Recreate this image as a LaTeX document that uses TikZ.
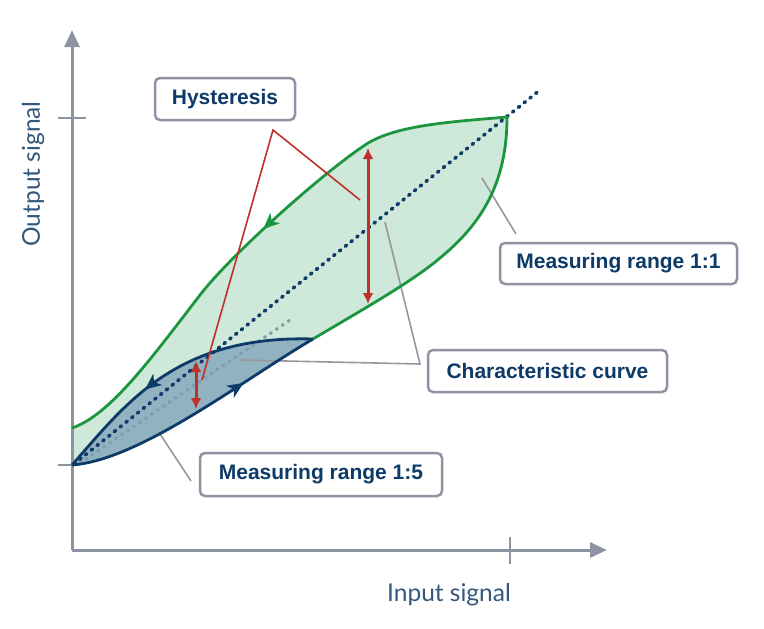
\documentclass[tikz,border=0pt]{standalone}
\usepackage{fontspec}
\setmainfont{Lato}
\newfontfamily\boxfont{Liberation Sans}
\usetikzlibrary{arrows.meta,decorations.markings}
\definecolor{axisgray}{RGB}{142,147,163}
\definecolor{curvegreen}{RGB}{28,150,62}
\definecolor{fillgreen}{RGB}{206,232,218}
\definecolor{navy}{RGB}{14,58,104}
\definecolor{fillblue}{RGB}{145,178,192}
\definecolor{lightdot}{RGB}{128,156,178}
\definecolor{hystred}{RGB}{192,48,43}
\definecolor{labelblue}{RGB}{52,88,124}
\definecolor{leadergray}{RGB}{150,152,158}
\tikzset{
  axisline/.style={draw=axisgray,line width=3pt,-{Triangle[length=17pt,width=15pt]}},
  tickline/.style={draw=axisgray,line width=2.5pt},
  labelbox/.style={draw=axisgray,line width=2.5pt,fill=white,rounded corners=5pt,
    text=navy,font=\boxfont\fontsize{21}{23}\selectfont\bfseries,inner sep=0pt,align=center},
  leader/.style={draw=leadergray,line width=1.6pt},
  redleader/.style={draw=hystred,line width=1.6pt},
  redarrow/.style={draw=hystred,line width=3pt,{Latex[length=11pt,width=11pt]}-{Latex[length=11pt,width=11pt]}},
  greenline/.style={draw=curvegreen,line width=2.8pt},
  navyline/.style={draw=navy,line width=2.8pt},
  backtip/.style={postaction={decorate},decoration={markings,mark=at position #1 with {\arrowreversed{Stealth[length=16pt,width=14pt,inset=4.5pt]}}}},
  axislabel/.style={text=labelblue,font=\fontsize{24.5}{26}\selectfont,inner sep=0pt},
}
\begin{document}
\begin{tikzpicture}[x=1pt,y=-1pt]
\useasboundingbox (0,0) rectangle (764,629);
% key points
\coordinate (g0) at (72,428);
\coordinate (top) at (507,117);
\coordinate (tip) at (313,339);
\coordinate (b0) at (72,465);
% regions
\fill[fillgreen] (g0) .. controls (110,415) and (150,360) .. (200,295)
  .. controls (230,256) and (320,175) .. (365,145)
  .. controls (395,125) and (450,122) .. (top)
  .. controls (507,185) and (480,225) .. (440,258)
  .. controls (412,282) and (355,314) .. (tip)
  .. controls (240,382) and (140,460) .. (b0) -- cycle;
\fill[fillblue] (b0) .. controls (125,405) and (175,335) .. (tip)
  .. controls (240,382) and (140,460) .. (b0) -- cycle;
% dotted diagonals
\coordinate (d0) at (74,464);
\coordinate (d1) at (540,90);
\coordinate (l0) at (80,463);
\coordinate (l1) at (290,320);
\draw[lightdot,line width=3.4pt,line cap=round,dash pattern=on 1pt off 6.2pt] (l0) -- (l1);
\draw[navy,line width=3.6pt,line cap=round,dash pattern=on 1.6pt off 5.8pt] (d0) -- (d1);
% axes
\coordinate (o) at (72,550);
\coordinate (ytip) at (72,30);
\coordinate (xtip) at (607,550);
\draw[axisline] (o) -- (ytip);
\draw[axisline] (o) -- (xtip);
\coordinate (ty1a) at (58,118); \coordinate (ty1b) at (86,118);
\coordinate (ty2a) at (58,465); \coordinate (ty2b) at (72,465);
\coordinate (tx1a) at (510,537); \coordinate (tx1b) at (510,564);
\draw[tickline] (ty1a) -- (ty1b);
\draw[tickline] (ty2a) -- (ty2b);
\draw[tickline] (tx1a) -- (tx1b);
% leaders (gray)
\coordinate (cv) at (420,364);
\coordinate (cd) at (385,222);
\coordinate (cl) at (240,360);
\draw[leader] (cd) -- (cv) -- (cl);
\coordinate (m1a) at (482,178);
\coordinate (m1b) at (516,234);
\draw[leader] (m1a) -- (m1b);
\coordinate (m5a) at (160,434);
\coordinate (m5b) at (191,481);
\draw[leader] (m5a) -- (m5b);
% curves
\draw[greenline,backtip=0.5]
  (g0) .. controls (110,415) and (150,360) .. (200,295)
  .. controls (230,256) and (320,175) .. (365,145)
  .. controls (395,125) and (450,122) .. (top);
\draw[greenline,line cap=round] (top) .. controls (507,185) and (480,225) .. (440,258)
  .. controls (412,282) and (355,314) .. (tip);
\draw[navyline,backtip=0.37]
  (b0) .. controls (125,405) and (175,335) .. (tip);
\draw[navyline,backtip=0.30]
  (tip) .. controls (240,382) and (140,460) .. (b0);
% hysteresis leaders and arrows
\coordinate (hv) at (273,130);
\coordinate (ha) at (360,200);
\coordinate (hb) at (202,380);
\draw[redleader] (ha) -- (hv) -- (hb);
\coordinate (ra0) at (368,148);
\coordinate (ra1) at (368,304);
\coordinate (rb0) at (196,361);
\coordinate (rb1) at (196,409);
\draw[redarrow] (ra0) -- (ra1);
\draw[redarrow] (rb0) -- (rb1);
% label boxes
\node[labelbox,minimum width=140pt,minimum height=42pt] (hys) at (225,99) {Hysteresis};
\node[labelbox,minimum width=237pt,minimum height=41pt] (mr11) at (618.5,263.5) {Measuring range 1:1};
\node[labelbox,minimum width=239pt,minimum height=42pt] (cc) at (547.5,371) {Characteristic curve};
\node[labelbox,minimum width=242pt,minimum height=43pt] (mr15) at (321,474.5) {Measuring range 1:5};
% axis labels
\node[axislabel,rotate=90] (ylab) at (33,174) {Output signal};
\node[axislabel] (xlab) at (449,595) {Input signal};
\end{tikzpicture}
\end{document}
